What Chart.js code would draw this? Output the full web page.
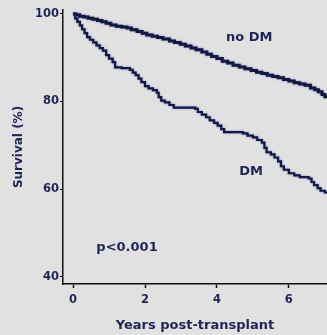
<!DOCTYPE html>
<html>
<head>
<meta charset="utf-8">
<script src="https://cdn.jsdelivr.net/npm/chart.js@4.4.0/dist/chart.umd.min.js"></script>
<style>
  html, body { margin: 0; padding: 0; background: #e1e1e1; }
  #wrap { width: 327px; height: 335px; position: relative; }
</style>
</head>
<body>
<div id="wrap"><canvas id="survivalChart"></canvas></div>
<script>
// Kaplan-Meier survival after transplant, by diabetes status
const noDmYears = [0, 0.08, 0.18, 0.3, 0.42, 0.55, 0.68, 0.8, 0.92, 1.05, 1.2, 1.35, 1.5, 1.62, 1.78, 1.92,
  2.05, 2.2, 2.35, 2.5, 2.68, 2.82, 2.98, 3.12, 3.28, 3.42, 3.58, 3.72, 3.85, 4.0, 4.15, 4.3, 4.45,
  4.62, 4.78, 4.95, 5.1, 5.25, 5.4, 5.55, 5.7, 5.85, 6.0, 6.15, 6.3, 6.45, 6.6, 6.72, 6.82, 6.92, 7.0, 7.06];
const noDmSurvival = [100, 99.8, 99.5, 99.3, 99.0, 98.8, 98.5, 98.2, 97.9, 97.5, 97.2, 97.0, 96.8, 96.4, 96.0, 95.6,
  95.2, 94.9, 94.6, 94.3, 93.8, 93.5, 93.1, 92.7, 92.2, 91.8, 91.3, 90.8, 90.3, 89.8, 89.2, 88.8, 88.3,
  87.9, 87.5, 87.1, 86.7, 86.4, 86.0, 85.7, 85.4, 85.0, 84.7, 84.3, 84.0, 83.7, 83.1, 82.7, 82.2, 81.6, 81.1, 80.8];

const dmYears = [0, 0.06, 0.12, 0.19, 0.25, 0.32, 0.39, 0.47, 0.56, 0.65, 0.74, 0.83, 0.92, 1.0, 1.1, 1.17,
  1.35, 1.58, 1.66, 1.74, 1.82, 1.9, 2.0, 2.1, 2.22, 2.33, 2.38, 2.45, 2.55, 2.68, 2.8, 3.4, 3.47, 3.58,
  3.7, 3.8, 3.92, 4.02, 4.12, 4.2, 4.72, 4.85, 5.0, 5.12, 5.25, 5.32, 5.38, 5.5, 5.6, 5.7, 5.78, 5.86,
  6.0, 6.15, 6.3, 6.55, 6.63, 6.7, 6.8, 6.88, 7.0, 7.06];
const dmSurvival = [100, 99.0, 98.2, 97.4, 96.5, 95.6, 94.7, 94.1, 93.5, 92.8, 92.2, 91.6, 90.6, 89.8, 89.0, 87.8,
  87.6, 87.2, 86.6, 86.0, 85.2, 84.4, 83.5, 83.0, 82.6, 82.0, 81.0, 80.2, 79.8, 79.2, 78.6, 78.3, 77.6, 77.0,
  76.4, 75.7, 75.1, 74.5, 73.7, 73.0, 72.7, 72.2, 71.8, 71.2, 70.6, 69.4, 68.4, 67.9, 67.2, 66.3, 65.2, 64.4,
  63.6, 63.1, 62.7, 62.4, 61.6, 60.9, 60.2, 59.6, 59.2, 59.2];

const yTicks = [40, 60, 80, 100];
const xTicks = [0, 2, 4, 6];

const textColor = '#1e2457';
const lineColor = '#14183c';
const fontFamily = '"DejaVu Sans", sans-serif';

function toPoints(xs, ys) {
  return xs.map((x, i) => ({ x: x, y: ys[i] }));
}

// gray page background plus soft blue halo on the curves
const backdrop = {
  id: 'backdrop',
  beforeDraw(chart) {
    const ctx = chart.ctx;
    ctx.save();
    ctx.fillStyle = '#e1e1e1';
    ctx.fillRect(0, 0, chart.width, chart.height);
    ctx.restore();
  },
  beforeDatasetsDraw(chart) {
    chart.ctx.save();
    chart.ctx.shadowColor = 'rgba(45, 65, 200, 0.6)';
    chart.ctx.shadowBlur = 2;
  },
  afterDatasetsDraw(chart) {
    chart.ctx.restore();
  }
};

// in-plot labels, placed in data coordinates
const curveLabels = {
  id: 'curveLabels',
  afterDraw(chart) {
    const { ctx, scales: { x, y } } = chart;
    const labels = [
      { text: 'no DM', x: 4.9, y: 94.5 },
      { text: 'DM', x: 4.95, y: 63.9 },
      { text: 'p<0.001', x: 1.5, y: 46.5 }
    ];
    ctx.save();
    ctx.font = 'bold 13px ' + fontFamily;
    ctx.fillStyle = textColor;
    ctx.textAlign = 'center';
    ctx.textBaseline = 'middle';
    labels.forEach(l => ctx.fillText(l.text, x.getPixelForValue(l.x), y.getPixelForValue(l.y)));
    ctx.restore();
  }
};

new Chart(document.getElementById('survivalChart'), {
  type: 'line',
  data: {
    datasets: [
      {
        label: 'no DM',
        data: toPoints(noDmYears, noDmSurvival),
        borderColor: lineColor,
        borderWidth: 3,
        stepped: true,
        pointRadius: 0,
        fill: false
      },
      {
        label: 'DM',
        data: toPoints(dmYears, dmSurvival),
        borderColor: lineColor,
        borderWidth: 2.2,
        stepped: true,
        pointRadius: 0,
        fill: false
      }
    ]
  },
  options: {
    responsive: true,
    maintainAspectRatio: false,
    animation: false,
    layout: { padding: { top: 10, right: 0, left: 0, bottom: 0 } },
    plugins: {
      legend: { display: false },
      tooltip: { enabled: false }
    },
    scales: {
      x: {
        type: 'linear',
        min: -0.28,
        max: 7.06,
        afterBuildTicks(scale) { scale.ticks = xTicks.map(v => ({ value: v })); },
        afterFit(scale) { scale.height = 51; },
        ticks: {
          color: textColor,
          padding: 5,
          font: { family: fontFamily, size: 11.5, weight: 'bold' }
        },
        grid: { drawOnChartArea: false, drawTicks: true, tickLength: 4, tickWidth: 1.5, color: '#111' },
        border: { display: true, color: '#111', width: 1.5 },
        title: {
          display: true,
          text: 'Years post-transplant',
          color: textColor,
          padding: { top: 0, bottom: 2 },
          font: { family: fontFamily, size: 13, weight: 'bold' }
        }
      },
      y: {
        min: 38.3,
        max: 100.9,
        afterBuildTicks(scale) { scale.ticks = yTicks.map(v => ({ value: v })); },
        afterFit(scale) { scale.width = 63; },
        ticks: {
          color: textColor,
          padding: 1,
          font: { family: fontFamily, size: 11.5, weight: 'bold' }
        },
        grid: { drawOnChartArea: false, drawTicks: true, tickLength: 3, tickWidth: 1, color: '#111' },
        border: { display: true, color: '#111', width: 1.5 },
        title: {
          display: true,
          text: 'Survival (%)',
          color: textColor,
          padding: { top: 12, bottom: 0 },
          font: { family: fontFamily, size: 12, weight: 'bold' }
        }
      }
    }
  },
  plugins: [backdrop, curveLabels]
});
</script>
</body>
</html>
